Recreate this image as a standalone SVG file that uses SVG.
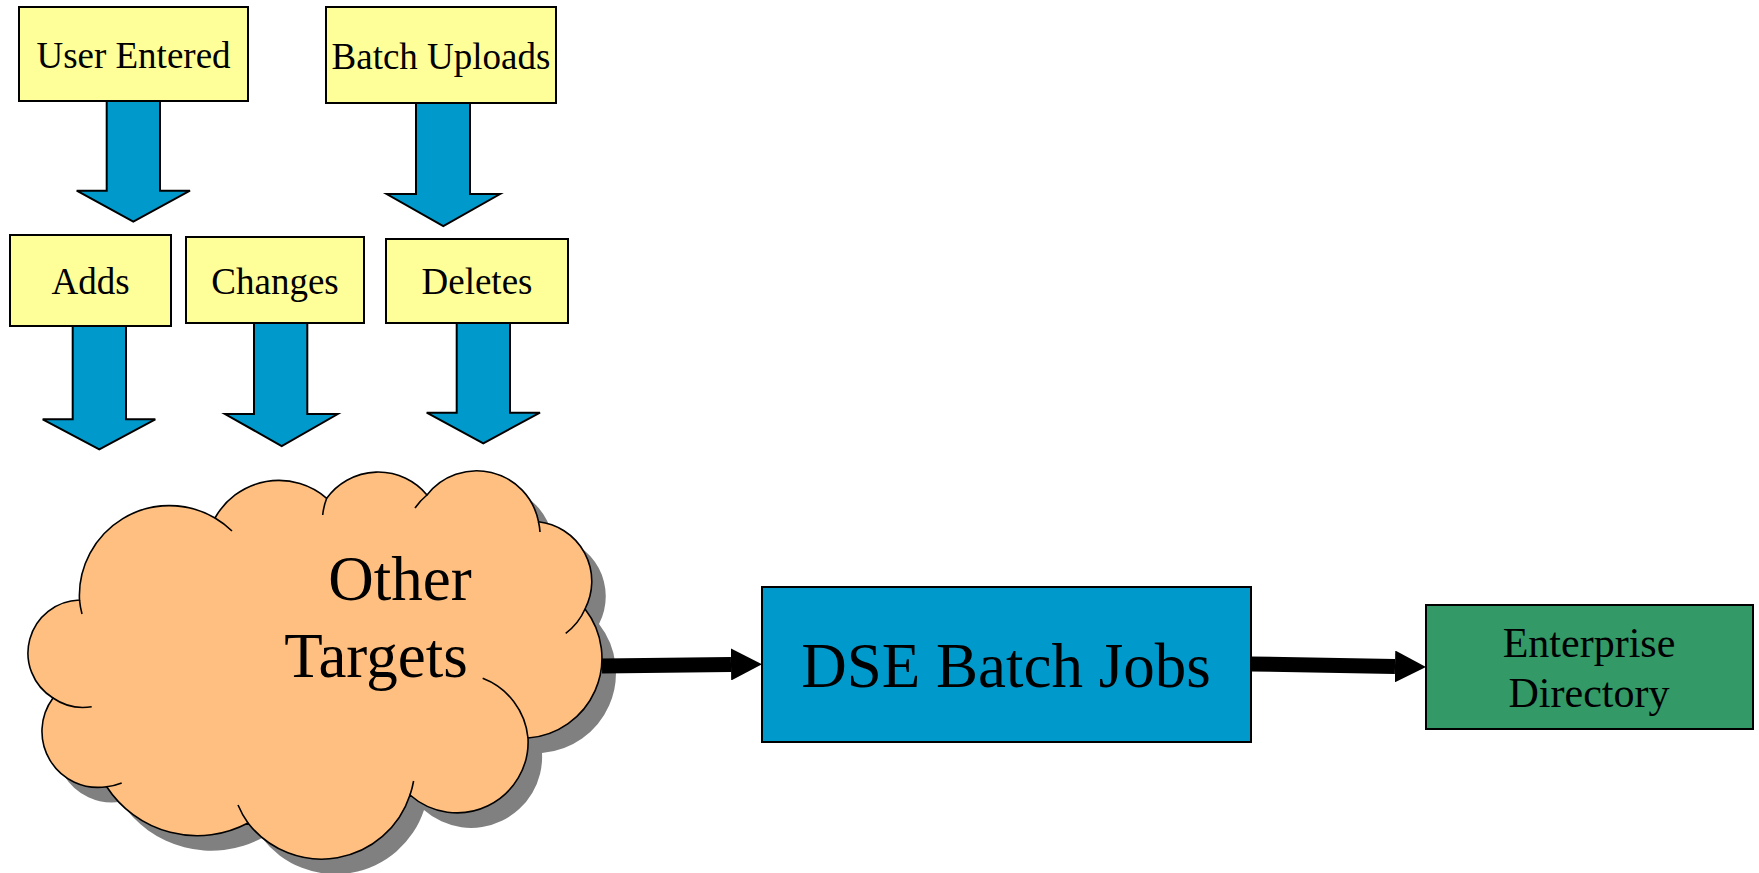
<svg xmlns="http://www.w3.org/2000/svg" width="1759" height="873" viewBox="0 0 1759 873">
<style>
.box{stroke:#000;stroke-width:2}
.note{fill:#FFFF99}
.lbl{font-family:"Liberation Serif","Times New Roman",serif;fill:#000;text-anchor:middle}
.s{font-size:37px}
.m{font-size:42px}
.l{font-size:63px}
.blk{fill:#0099CC;stroke:#000;stroke-width:2;stroke-linejoin:miter}
.flow{stroke:#000;stroke-width:15;fill:none}
.tick{fill:none;stroke:#000;stroke-width:1.6}
</style>
<defs>
<!-- cloud outline: one arc per lobe, clockwise from the left -->
<path id="cloudShape" d="M79.5,600 A90,90 0 0 1 215,518 A73,73 0 0 1 326.7,498.3 A63.5,63.5 0 0 1 427,495 A63,63 0 0 1 538.5,521.7 A60,60 0 0 1 585,609 A80,80 0 0 1 528,738 A71,71 0 0 1 410,795 A93,93 0 0 1 248,823 A108,108 0 0 1 106.7,786.7 A56,56 0 0 1 53,698 A53,53 0 0 1 79.5,600 Z"/>
<marker id="head" markerUnits="userSpaceOnUse" markerWidth="32" markerHeight="32" refX="0" refY="16" orient="auto">
<path d="M0,0 L31,16 L0,32 Z" fill="#000"/>
</marker>
</defs>

<g id="user-entered">
<rect class="box note" x="19" y="7" width="229" height="94"/>
<text class="lbl s" x="133.5" y="68">User Entered</text>
</g>

<g id="batch-uploads">
<rect class="box note" x="326" y="7" width="230" height="96"/>
<text class="lbl s" x="441" y="69">Batch Uploads</text>
</g>

<g id="adds">
<rect class="box note" x="10" y="235" width="161" height="91"/>
<text class="lbl s" x="90.5" y="294">Adds</text>
</g>

<g id="changes">
<rect class="box note" x="186" y="237" width="178" height="86"/>
<text class="lbl s" x="275" y="294">Changes</text>
</g>

<g id="deletes">
<rect class="box note" x="386" y="239" width="182" height="84"/>
<text class="lbl s" x="477" y="294">Deletes</text>
</g>

<g id="other-targets">
<use href="#cloudShape" transform="translate(14,15)" fill="#808080"/>
<use href="#cloudShape" fill="#FFBF80" stroke="#000" stroke-width="1.6"/>
<g class="tick">
<path d="M79.5,600 A90,90 0 0 0 82,614"/>
<path d="M215,518 A90,90 0 0 1 232,531"/>
<path d="M326.7,498.3 A63.5,63.5 0 0 0 322.7,515"/>
<path d="M427,495 A63,63 0 0 0 415,508"/>
<path d="M538.5,521.7 A63,63 0 0 1 540,532"/>
<path d="M585,609 A60,60 0 0 1 565.7,633.3"/>
<path d="M528,738 A71,71 0 0 0 482.7,678.3"/>
<path d="M410,795 A93,93 0 0 0 413.6,781"/>
<path d="M248,823 A93,93 0 0 1 238,805"/>
<path d="M106.7,786.7 A56,56 0 0 0 121.7,783"/>
<path d="M53,698 A53,53 0 0 0 91.7,706.7"/>
</g>
<text class="lbl l" x="400" y="600">Other</text>
<text class="lbl l" x="376" y="677">Targets</text>
</g>

<g id="dse-batch-jobs">
<rect class="box" fill="#0099CC" x="762" y="587" width="489" height="155"/>
<text class="lbl l" x="1006" y="687">DSE Batch Jobs</text>
</g>

<g id="enterprise-directory">
<rect class="box" fill="#339966" x="1426" y="605" width="327" height="124"/>
<text class="lbl m" x="1589" y="657">Enterprise</text>
<text class="lbl m" x="1589" y="707">Directory</text>
</g>

<g id="connectors">
<path class="blk" d="M106.7,101 V190.7 H76.7 L133.3,221.7 L190,190.7 H160 V101 Z"/>
<path class="blk" d="M416,103 V194 H386.7 L443.3,226 L500,194 H470 V103 Z"/>
<path class="blk" d="M72.7,326 V419.3 H42.7 L99.3,449.3 L155.3,419.3 H126 V326 Z"/>
<path class="blk" d="M254,323 V414 H225 L281.7,446 L337.7,414 H307.3 V323 Z"/>
<path class="blk" d="M456.7,323 V412.7 H426.7 L483.3,443.3 L540,412.7 H510 V323 Z"/>
<path class="flow" d="M602,666 L731,664.5" marker-end="url(#head)"/>
<path class="flow" d="M1251,664 L1395,666.5" marker-end="url(#head)"/>
</g>
</svg>
